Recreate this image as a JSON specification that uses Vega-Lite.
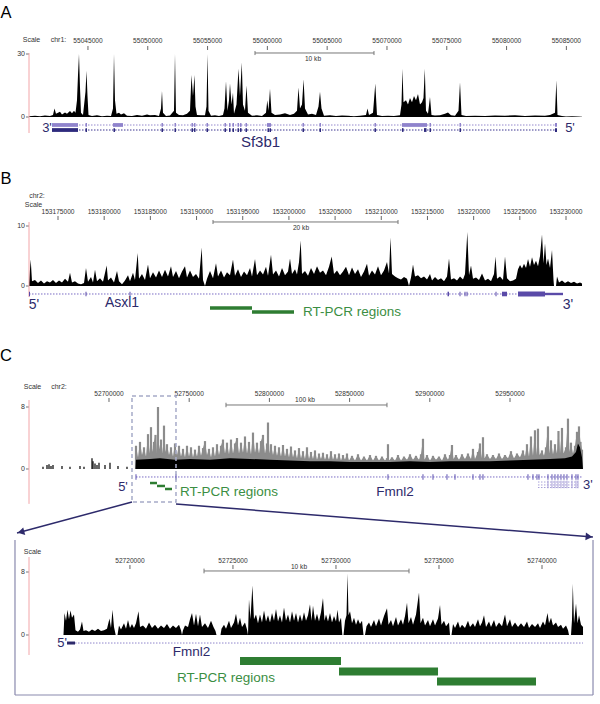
{
"$schema": "https://vega.github.io/schema/vega-lite/v6.json",
"padding": {"left": 0, "top": 4, "right": 0, "bottom": 0},
"background": "white",
"bounds": "flush",
"spacing": 20,
"config": {"view": {"stroke": null}, "font": "Liberation Sans", "text": {"font": "Liberation Sans"}},
"datasets": {
"ticksA": [{"t":55045000},{"t":55050000},{"t":55055000},{"t":55060000},{"t":55065000},{"t":55070000},{"t":55075000},{"t":55080000},{"t":55085000}],
"ticksB": [{"t":153175000},{"t":153180000},{"t":153185000},{"t":153190000},{"t":153195000},{"t":153200000},{"t":153205000},{"t":153210000},{"t":153215000},{"t":153220000},{"t":153225000},{"t":153230000}],
"ticksC": [{"t":52700000},{"t":52750000},{"t":52800000},{"t":52850000},{"t":52900000},{"t":52950000}],
"ticksI": [{"t":52720000},{"t":52725000},{"t":52730000},{"t":52735000},{"t":52740000}],
"yA": [{"t":0},{"t":30}],
"yB": [{"t":0},{"t":10}],
"yC": [{"t":0},{"t":8}],
"covA": [{"p":55040070,"v":0.3},{"p":55040571,"v":0.6},{"p":55040989,"v":0.4},{"p":55041407,"v":0.7},{"p":55041826,"v":0.5},{"p":55042076,"v":1.0},{"p":55042202,"v":4},{"p":55042327,"v":1.5},{"p":55042662,"v":2.5},{"p":55042829,"v":1.2},{"p":55043080,"v":2.2},{"p":55043247,"v":1.5},{"p":55043498,"v":2.8},{"p":55043665,"v":1.8},{"p":55043832,"v":3},{"p":55043958,"v":2},{"p":55044083,"v":8},{"p":55044167,"v":20},{"p":55044250,"v":30},{"p":55044334,"v":14},{"p":55044417,"v":2},{"p":55044585,"v":1},{"p":55044794,"v":12},{"p":55044877,"v":22},{"p":55044961,"v":10},{"p":55045045,"v":1},{"p":55045337,"v":0.5},{"p":55045755,"v":0.8},{"p":55046173,"v":0.4},{"p":55046591,"v":0.6},{"p":55046926,"v":0.5},{"p":55047093,"v":4},{"p":55047177,"v":30},{"p":55047260,"v":8},{"p":55047386,"v":1.5},{"p":55047595,"v":2},{"p":55047762,"v":1.2},{"p":55048013,"v":1.8},{"p":55048264,"v":0.6},{"p":55048682,"v":0.5},{"p":55049100,"v":0.9},{"p":55049518,"v":0.6},{"p":55049936,"v":1.2},{"p":55050187,"v":0.8},{"p":55050605,"v":1},{"p":55050939,"v":0.5},{"p":55051106,"v":4},{"p":55051190,"v":12.5},{"p":55051273,"v":2},{"p":55051524,"v":0.5},{"p":55051859,"v":0.7},{"p":55052193,"v":3},{"p":55052277,"v":30},{"p":55052360,"v":2},{"p":55052611,"v":1},{"p":55052946,"v":0.8},{"p":55053280,"v":1.5},{"p":55053531,"v":3},{"p":55053656,"v":20},{"p":55053782,"v":10},{"p":55053907,"v":20},{"p":55053991,"v":5},{"p":55054116,"v":1},{"p":55054451,"v":0.8},{"p":55054785,"v":0.8},{"p":55054911,"v":5},{"p":55054994,"v":30},{"p":55055078,"v":3},{"p":55055287,"v":0.6},{"p":55055621,"v":0.8},{"p":55055956,"v":0.5},{"p":55056290,"v":1},{"p":55056415,"v":4},{"p":55056541,"v":17},{"p":55056666,"v":3},{"p":55056792,"v":8},{"p":55056875,"v":16},{"p":55057001,"v":6},{"p":55057126,"v":11.5},{"p":55057210,"v":1.5},{"p":55057419,"v":6},{"p":55057586,"v":23},{"p":55057711,"v":10},{"p":55057862,"v":26},{"p":55057962,"v":6},{"p":55058129,"v":3},{"p":55058255,"v":15},{"p":55058380,"v":2},{"p":55058715,"v":0.6},{"p":55059133,"v":0.8},{"p":55059551,"v":0.5},{"p":55059885,"v":2},{"p":55059994,"v":8},{"p":55060094,"v":3},{"p":55060220,"v":13.5},{"p":55060345,"v":2},{"p":55060638,"v":1},{"p":55061056,"v":1.2},{"p":55061474,"v":1.8},{"p":55061892,"v":1},{"p":55062226,"v":1.5},{"p":55062477,"v":3},{"p":55062603,"v":14},{"p":55062728,"v":4},{"p":55062895,"v":6},{"p":55063029,"v":18},{"p":55063146,"v":4},{"p":55063397,"v":1.2},{"p":55063731,"v":1.5},{"p":55064066,"v":1},{"p":55064275,"v":5},{"p":55064400,"v":12},{"p":55064526,"v":4},{"p":55064735,"v":0.6},{"p":55065236,"v":0.8},{"p":55065738,"v":0.5},{"p":55066240,"v":0.7},{"p":55066741,"v":0.6},{"p":55067243,"v":0.4},{"p":55067745,"v":0.6},{"p":55068246,"v":1},{"p":55068372,"v":4},{"p":55068497,"v":1},{"p":55068832,"v":2},{"p":55069024,"v":16},{"p":55069166,"v":1},{"p":55069584,"v":0.5},{"p":55070086,"v":0.6},{"p":55070587,"v":0.5},{"p":55071089,"v":0.8},{"p":55071214,"v":6},{"p":55071298,"v":23},{"p":55071382,"v":7},{"p":55071591,"v":8},{"p":55071758,"v":6},{"p":55071925,"v":9},{"p":55072092,"v":7},{"p":55072260,"v":10},{"p":55072427,"v":8},{"p":55072594,"v":11},{"p":55072761,"v":6},{"p":55072928,"v":7},{"p":55073054,"v":9},{"p":55073163,"v":23},{"p":55073263,"v":3},{"p":55073430,"v":1.5},{"p":55073597,"v":9.5},{"p":55073723,"v":1},{"p":55074015,"v":0.7},{"p":55074433,"v":0.8},{"p":55074851,"v":1.5},{"p":55075102,"v":2.2},{"p":55075353,"v":0.8},{"p":55075688,"v":0.6},{"p":55075980,"v":3},{"p":55076106,"v":16.5},{"p":55076231,"v":1},{"p":55076607,"v":0.5},{"p":55077360,"v":0.6},{"p":55078196,"v":0.5},{"p":55079032,"v":0.7},{"p":55079868,"v":0.6},{"p":55080704,"v":0.8},{"p":55081540,"v":0.5},{"p":55082376,"v":0.7},{"p":55083212,"v":0.6},{"p":55083631,"v":0.9},{"p":55084049,"v":2},{"p":55084166,"v":17.5},{"p":55084258,"v":1},{"p":55084634,"v":0.5},{"p":55084968,"v":0.2},{"p":55085470,"v":0.3},{"p":55085972,"v":0.2},{"p":55086306,"v":0.1}],
"exAup": [{"s":55041993,"e":55044167},{"s":55044794,"e":55044919},{"s":55047093,"e":55047929},{"s":55051148,"e":55051273},{"s":55052235,"e":55052360},{"s":55053656,"e":55053782},{"s":55053865,"e":55053991},{"s":55054911,"e":55055036},{"s":55056415,"e":55056541},{"s":55056792,"e":55056917},{"s":55057084,"e":55057210},{"s":55057502,"e":55057628},{"s":55057711,"e":55057837},{"s":55058171,"e":55058297},{"s":55059969,"e":55060303},{"s":55062937,"e":55063062},{"s":55064358,"e":55064484},{"s":55068957,"e":55069082},{"s":55071256,"e":55073347},{"s":55073556,"e":55073681},{"s":55076064,"e":55076189},{"s":55084049,"e":55084216}],
"exAlo": [{"s":55041993,"e":55044167},{"s":55044794,"e":55044919},{"s":55047135,"e":55047260},{"s":55051148,"e":55051273},{"s":55052235,"e":55052360},{"s":55053656,"e":55053782},{"s":55053865,"e":55053991},{"s":55054911,"e":55055036},{"s":55056415,"e":55056541},{"s":55056792,"e":55056917},{"s":55057084,"e":55057210},{"s":55057502,"e":55057628},{"s":55057711,"e":55057837},{"s":55058171,"e":55058297},{"s":55060011,"e":55060136},{"s":55060178,"e":55060303},{"s":55062937,"e":55063062},{"s":55064358,"e":55064484},{"s":55068957,"e":55069082},{"s":55071256,"e":55071382},{"s":55073096,"e":55073305},{"s":55073556,"e":55073681},{"s":55076064,"e":55076189},{"s":55084049,"e":55084216}],
"covB": [{"p":153171860,"v":0.5},{"p":153172044,"v":4.4},{"p":153172185,"v":0.8},{"p":153172509,"v":1.0},{"p":153172834,"v":0.5},{"p":153173159,"v":0.9},{"p":153173484,"v":0.4},{"p":153173809,"v":0.8},{"p":153174134,"v":0.6},{"p":153174458,"v":1.0},{"p":153174783,"v":0.5},{"p":153175108,"v":0.9},{"p":153175433,"v":0.6},{"p":153175758,"v":1.2},{"p":153176082,"v":0.7},{"p":153176299,"v":2.2},{"p":153176515,"v":0.6},{"p":153176840,"v":0.8},{"p":153177165,"v":0.4},{"p":153177490,"v":0.3},{"p":153177815,"v":0.5},{"p":153178031,"v":3.0},{"p":153178248,"v":0.7},{"p":153178573,"v":1.5},{"p":153178789,"v":0.6},{"p":153179006,"v":2.7},{"p":153179222,"v":0.8},{"p":153179547,"v":1.3},{"p":153179872,"v":0.7},{"p":153180272,"v":3.4},{"p":153180413,"v":0.9},{"p":153180738,"v":1.4},{"p":153181063,"v":0.6},{"p":153181388,"v":2.5},{"p":153181604,"v":0.8},{"p":153181929,"v":0.3},{"p":153182254,"v":0.9},{"p":153182579,"v":1.8},{"p":153182795,"v":0.8},{"p":153183120,"v":2.2},{"p":153183336,"v":1.0},{"p":153183629,"v":5.5},{"p":153183770,"v":1.2},{"p":153184094,"v":2.0},{"p":153184419,"v":1.0},{"p":153184744,"v":3.6},{"p":153184961,"v":1.3},{"p":153185285,"v":2.3},{"p":153185610,"v":1.4},{"p":153185935,"v":2.6},{"p":153186260,"v":1.5},{"p":153186585,"v":2.7},{"p":153186909,"v":1.6},{"p":153187234,"v":3.3},{"p":153187451,"v":1.5},{"p":153187776,"v":2.5},{"p":153188100,"v":1.3},{"p":153188425,"v":2.4},{"p":153188750,"v":3.3},{"p":153188967,"v":1.4},{"p":153189291,"v":2.6},{"p":153189616,"v":1.5},{"p":153189941,"v":2.0},{"p":153190266,"v":1.2},{"p":153190558,"v":6.4},{"p":153190699,"v":1.0},{"p":153190915,"v":0},{"p":153191132,"v":1.2},{"p":153191457,"v":2.5},{"p":153191782,"v":1.3},{"p":153192106,"v":3.8},{"p":153192323,"v":1.6},{"p":153192648,"v":2.6},{"p":153192973,"v":1.4},{"p":153193297,"v":2.3},{"p":153193622,"v":1.8},{"p":153193947,"v":4.4},{"p":153194163,"v":1.7},{"p":153194488,"v":2.8},{"p":153194813,"v":1.5},{"p":153195138,"v":2.4},{"p":153195463,"v":1.8},{"p":153195788,"v":3.0},{"p":153196004,"v":1.6},{"p":153196329,"v":4.5},{"p":153196545,"v":1.8},{"p":153196870,"v":2.6},{"p":153197195,"v":1.9},{"p":153197520,"v":3.2},{"p":153197736,"v":1.7},{"p":153198061,"v":5.2},{"p":153198278,"v":1.9},{"p":153198603,"v":2.6},{"p":153198927,"v":1.6},{"p":153199252,"v":3.0},{"p":153199577,"v":1.8},{"p":153199902,"v":2.4},{"p":153200118,"v":4.6},{"p":153200335,"v":2.0},{"p":153200660,"v":2.8},{"p":153200876,"v":1.9},{"p":153201093,"v":4.0},{"p":153201277,"v":7.6},{"p":153201418,"v":2.0},{"p":153201742,"v":2.5},{"p":153202067,"v":1.7},{"p":153202392,"v":3.0},{"p":153202717,"v":2.0},{"p":153203042,"v":3.3},{"p":153203366,"v":2.2},{"p":153203691,"v":2.6},{"p":153204016,"v":1.8},{"p":153204341,"v":3.2},{"p":153204633,"v":4.9},{"p":153204882,"v":2.0},{"p":153205207,"v":2.6},{"p":153205532,"v":1.8},{"p":153205857,"v":2.4},{"p":153206181,"v":3.2},{"p":153206506,"v":1.8},{"p":153206831,"v":3.1},{"p":153207156,"v":2.0},{"p":153207481,"v":2.8},{"p":153207805,"v":1.5},{"p":153208130,"v":2.4},{"p":153208455,"v":3.7},{"p":153208672,"v":1.7},{"p":153208996,"v":2.6},{"p":153209321,"v":1.9},{"p":153209646,"v":3.3},{"p":153209971,"v":1.8},{"p":153210296,"v":2.6},{"p":153210620,"v":4.0},{"p":153210837,"v":2.1},{"p":153210999,"v":8.1},{"p":153211162,"v":2.0},{"p":153211487,"v":1.6},{"p":153211811,"v":1.3},{"p":153212136,"v":1.1},{"p":153212461,"v":1.5},{"p":153212786,"v":1.2},{"p":153213002,"v":0},{"p":153213219,"v":1.4},{"p":153213435,"v":3.6},{"p":153213652,"v":1.6},{"p":153213977,"v":1.8},{"p":153214302,"v":1.3},{"p":153214626,"v":1.6},{"p":153214951,"v":1.1},{"p":153215276,"v":2.0},{"p":153215493,"v":0.9},{"p":153215817,"v":1.5},{"p":153216142,"v":1.0},{"p":153216467,"v":1.3},{"p":153216792,"v":0.8},{"p":153217117,"v":1.6},{"p":153217333,"v":4.6},{"p":153217550,"v":1.1},{"p":153217875,"v":1.3},{"p":153218199,"v":0.9},{"p":153218524,"v":1.6},{"p":153218849,"v":1.1},{"p":153219066,"v":2.0},{"p":153219315,"v":9.0},{"p":153219499,"v":1.8},{"p":153219715,"v":3.4},{"p":153219932,"v":1.2},{"p":153220257,"v":1.4},{"p":153220581,"v":1.0},{"p":153220906,"v":2.1},{"p":153221231,"v":0.9},{"p":153221556,"v":1.2},{"p":153221881,"v":0.8},{"p":153222205,"v":2.0},{"p":153222368,"v":4.9},{"p":153222530,"v":1.2},{"p":153222855,"v":1.6},{"p":153223180,"v":1.0},{"p":153223396,"v":4.9},{"p":153223613,"v":1.3},{"p":153223938,"v":0.8},{"p":153224263,"v":0.9},{"p":153224587,"v":1.2},{"p":153224804,"v":2.8},{"p":153225020,"v":3.5},{"p":153225237,"v":2.9},{"p":153225453,"v":3.7},{"p":153225670,"v":3.0},{"p":153225887,"v":4.5},{"p":153226103,"v":3.2},{"p":153226320,"v":4.8},{"p":153226536,"v":3.5},{"p":153226753,"v":4.2},{"p":153226969,"v":3.3},{"p":153227186,"v":5.0},{"p":153227402,"v":8.6},{"p":153227565,"v":3.8},{"p":153227727,"v":7.1},{"p":153227890,"v":3.5},{"p":153228052,"v":4.6},{"p":153228269,"v":3.0},{"p":153228485,"v":6.0},{"p":153228647,"v":1.0},{"p":153228702,"v":0},{"p":153228918,"v":0},{"p":153229026,"v":1.6},{"p":153229243,"v":0.6},{"p":153229568,"v":0.9},{"p":153229893,"v":0.5},{"p":153230217,"v":0.8},{"p":153230542,"v":0.5},{"p":153230867,"v":0.7},{"p":153231192,"v":0.4},{"p":153231517,"v":0.6},{"p":153231733,"v":0.4}],
"exB": [{"s":153171860,"e":153171968},{"s":153177977,"e":153178085},{"s":153182741,"e":153182849},{"s":153217171,"e":153217333},{"s":153218470,"e":153218578},{"s":153219011,"e":153219120},{"s":153219228,"e":153219336},{"s":153222368,"e":153222476},{"s":153223072,"e":153223613}],
"covCgray": [{"p":52716522,"v":0},{"p":52716833,"v":3.0},{"p":52718080,"v":1.5},{"p":52719327,"v":3.5},{"p":52720574,"v":1.8},{"p":52721821,"v":2.8},{"p":52723067,"v":1.6},{"p":52724314,"v":4.5},{"p":52725249,"v":2.0},{"p":52726184,"v":5.4},{"p":52727120,"v":2.2},{"p":52728055,"v":3.5},{"p":52728990,"v":4.4},{"p":52729925,"v":2.0},{"p":52730548,"v":8.0},{"p":52731172,"v":2.5},{"p":52732418,"v":3.8},{"p":52733665,"v":2.0},{"p":52734289,"v":5.6},{"p":52735224,"v":2.2},{"p":52736159,"v":3.2},{"p":52737406,"v":1.8},{"p":52738652,"v":2.8},{"p":52739899,"v":1.6},{"p":52741146,"v":3.3},{"p":52742393,"v":1.8},{"p":52743640,"v":3.0},{"p":52744886,"v":1.6},{"p":52746133,"v":2.6},{"p":52747380,"v":1.5},{"p":52748627,"v":3.0},{"p":52749874,"v":1.6},{"p":52751120,"v":2.8},{"p":52752367,"v":1.5},{"p":52753614,"v":2.5},{"p":52754861,"v":1.6},{"p":52756108,"v":3.0},{"p":52757354,"v":1.7},{"p":52758601,"v":2.7},{"p":52759848,"v":3.6},{"p":52761095,"v":1.8},{"p":52762342,"v":2.6},{"p":52763588,"v":1.5},{"p":52764835,"v":2.8},{"p":52766082,"v":1.6},{"p":52767329,"v":3.2},{"p":52768576,"v":1.8},{"p":52769822,"v":3.0},{"p":52771069,"v":3.8},{"p":52772316,"v":2.0},{"p":52773563,"v":3.4},{"p":52774810,"v":1.9},{"p":52776056,"v":3.8},{"p":52777303,"v":2.0},{"p":52778550,"v":3.3},{"p":52779797,"v":4.0},{"p":52781044,"v":2.0},{"p":52782290,"v":3.4},{"p":52783537,"v":2.1},{"p":52784784,"v":4.2},{"p":52786031,"v":2.0},{"p":52787278,"v":3.5},{"p":52788524,"v":1.9},{"p":52789771,"v":4.7},{"p":52791018,"v":2.1},{"p":52792265,"v":3.4},{"p":52793512,"v":2.0},{"p":52794758,"v":3.6},{"p":52796005,"v":4.4},{"p":52797252,"v":2.0},{"p":52798499,"v":3.3},{"p":52799122,"v":6.0},{"p":52800057,"v":2.0},{"p":52800992,"v":3.2},{"p":52802239,"v":1.8},{"p":52803486,"v":3.0},{"p":52804733,"v":1.7},{"p":52805980,"v":2.8},{"p":52807226,"v":1.6},{"p":52808473,"v":3.1},{"p":52809720,"v":1.6},{"p":52810967,"v":2.6},{"p":52812214,"v":1.5},{"p":52813460,"v":2.9},{"p":52814707,"v":1.5},{"p":52815954,"v":2.4},{"p":52817201,"v":1.4},{"p":52818448,"v":2.7},{"p":52819694,"v":1.4},{"p":52820941,"v":2.3},{"p":52822188,"v":1.3},{"p":52823435,"v":2.8},{"p":52824682,"v":1.3},{"p":52825928,"v":2.2},{"p":52827175,"v":1.3},{"p":52828422,"v":2.4},{"p":52829669,"v":1.2},{"p":52830916,"v":2.0},{"p":52832162,"v":1.3},{"p":52833409,"v":2.1},{"p":52834656,"v":1.2},{"p":52835903,"v":1.9},{"p":52837150,"v":1.2},{"p":52838396,"v":2.3},{"p":52839643,"v":1.2},{"p":52840890,"v":1.9},{"p":52842137,"v":1.2},{"p":52843384,"v":2.0},{"p":52844630,"v":1.1},{"p":52845877,"v":1.8},{"p":52847124,"v":1.2},{"p":52848371,"v":2.0},{"p":52849618,"v":1.1},{"p":52851488,"v":1.7},{"p":52853358,"v":1.1},{"p":52855228,"v":1.9},{"p":52857098,"v":1.1},{"p":52858969,"v":1.6},{"p":52860839,"v":1.1},{"p":52862709,"v":1.8},{"p":52864579,"v":1.1},{"p":52866449,"v":1.7},{"p":52868320,"v":1.1},{"p":52870190,"v":1.6},{"p":52872060,"v":1.1},{"p":52873307,"v":1.4},{"p":52873930,"v":3.2},{"p":52874554,"v":1.1},{"p":52876424,"v":1.5},{"p":52878294,"v":1.1},{"p":52880164,"v":1.8},{"p":52882034,"v":1.1},{"p":52883905,"v":1.6},{"p":52885775,"v":1.2},{"p":52887645,"v":1.9},{"p":52889515,"v":1.2},{"p":52891385,"v":1.7},{"p":52893256,"v":1.2},{"p":52894502,"v":1.9},{"p":52895749,"v":3.9},{"p":52896684,"v":1.2},{"p":52898243,"v":1.8},{"p":52900113,"v":1.1},{"p":52901983,"v":1.7},{"p":52903853,"v":1.2},{"p":52905724,"v":1.6},{"p":52907594,"v":1.1},{"p":52909464,"v":1.9},{"p":52911334,"v":1.2},{"p":52912581,"v":1.8},{"p":52913828,"v":3.1},{"p":52914763,"v":1.3},{"p":52916321,"v":1.8},{"p":52918192,"v":1.2},{"p":52920062,"v":1.9},{"p":52921932,"v":1.3},{"p":52923802,"v":2.0},{"p":52925672,"v":1.3},{"p":52926919,"v":2.6},{"p":52928166,"v":1.3},{"p":52930036,"v":2.2},{"p":52931283,"v":3.3},{"p":52932218,"v":1.4},{"p":52933153,"v":4.1},{"p":52934088,"v":1.4},{"p":52935647,"v":1.9},{"p":52937517,"v":1.3},{"p":52939387,"v":1.8},{"p":52941257,"v":1.3},{"p":52943128,"v":2.0},{"p":52944998,"v":1.3},{"p":52946868,"v":1.8},{"p":52948738,"v":1.4},{"p":52950608,"v":2.3},{"p":52952479,"v":1.4},{"p":52954349,"v":2.0},{"p":52956219,"v":1.5},{"p":52958089,"v":2.4},{"p":52959336,"v":1.6},{"p":52960583,"v":3.2},{"p":52961830,"v":1.6},{"p":52963076,"v":4.2},{"p":52964323,"v":1.7},{"p":52965570,"v":5.0},{"p":52966505,"v":1.8},{"p":52967440,"v":5.2},{"p":52968375,"v":1.8},{"p":52969934,"v":2.4},{"p":52971181,"v":1.7},{"p":52972427,"v":2.8},{"p":52973674,"v":5.5},{"p":52974609,"v":2.0},{"p":52975544,"v":3.7},{"p":52976791,"v":1.9},{"p":52978038,"v":3.2},{"p":52979285,"v":2.0},{"p":52980220,"v":4.9},{"p":52981155,"v":2.0},{"p":52982402,"v":5.3},{"p":52983337,"v":2.0},{"p":52984895,"v":2.8},{"p":52986142,"v":6.5},{"p":52987077,"v":2.2},{"p":52988012,"v":3.4},{"p":52989259,"v":2.0},{"p":52990506,"v":3.0},{"p":52991753,"v":4.8},{"p":52992376,"v":3.0},{"p":52993000,"v":5.5},{"p":52993935,"v":3.5},{"p":52994870,"v":2.5},{"p":52995493,"v":0}],
"covCfloor": [{"p":52716522,"v":0},{"p":52716833,"v":1.2},{"p":52725561,"v":1.3},{"p":52731795,"v":1.4},{"p":52741146,"v":1.2},{"p":52750497,"v":1.3},{"p":52762965,"v":1.2},{"p":52775433,"v":1.4},{"p":52787901,"v":1.3},{"p":52800369,"v":1.2},{"p":52812837,"v":1.1},{"p":52825305,"v":1.0},{"p":52837773,"v":1.0},{"p":52850241,"v":0.9},{"p":52862709,"v":0.9},{"p":52875177,"v":0.9},{"p":52887645,"v":1.0},{"p":52900113,"v":0.9},{"p":52912581,"v":1.0},{"p":52925049,"v":1.0},{"p":52937517,"v":1.0},{"p":52949985,"v":1.1},{"p":52962453,"v":1.2},{"p":52974921,"v":1.3},{"p":52984272,"v":1.4},{"p":52988636,"v":1.6},{"p":52991129,"v":2.2},{"p":52992376,"v":3.3},{"p":52993623,"v":2.8},{"p":52994870,"v":1.5},{"p":52995493,"v":0}],
"covCsparse": [{"p":52658857,"v":0.3},{"p":52661351,"v":0.5},{"p":52662598,"v":0.6},{"p":52663844,"v":0.4},{"p":52665091,"v":0.5},{"p":52670702,"v":0.4},{"p":52675689,"v":0.3},{"p":52681923,"v":0.4},{"p":52684417,"v":0.3},{"p":52689404,"v":1.4},{"p":52690027,"v":1.0},{"p":52691274,"v":0.7},{"p":52692521,"v":0.5},{"p":52693768,"v":0.8},{"p":52697508,"v":0.5},{"p":52700625,"v":0.8},{"p":52705612,"v":0.4},{"p":52711223,"v":0.3}],
"exC": [{"s":52716522,"e":52717145},{"s":52741458,"e":52742081},{"s":52873619,"e":52874242},{"s":52895438,"e":52896061},{"s":52901672,"e":52902295},{"s":52910399,"e":52911023},{"s":52915386,"e":52916010},{"s":52926608,"e":52927231},{"s":52930971,"e":52931595},{"s":52932842,"e":52933465},{"s":52960895,"e":52961518},{"s":52964012,"e":52964635},{"s":52966505,"e":52967129},{"s":52967752,"e":52968375},{"s":52973363,"e":52973986},{"s":52975856,"e":52976480},{"s":52977726,"e":52978350},{"s":52979597,"e":52980220},{"s":52981467,"e":52982090},{"s":52983337,"e":52983960},{"s":52985207,"e":52985831},{"s":52988324,"e":52988948},{"s":52990818,"e":52991441},{"s":52992065,"e":52992688}],
"covI": [{"p":52716774,"v":0},{"p":52716823,"v":2.8},{"p":52716896,"v":1.8},{"p":52716968,"v":3.2},{"p":52717041,"v":2.0},{"p":52717114,"v":3.1},{"p":52717187,"v":2.2},{"p":52717284,"v":2.6},{"p":52717357,"v":0.6},{"p":52717478,"v":0.4},{"p":52717575,"v":0.7},{"p":52717672,"v":1.7},{"p":52717745,"v":0.5},{"p":52717866,"v":0.6},{"p":52718012,"v":0.4},{"p":52718158,"v":0.7},{"p":52718303,"v":0.5},{"p":52718449,"v":0.8},{"p":52718595,"v":0.5},{"p":52718740,"v":0.6},{"p":52718886,"v":0.8},{"p":52719007,"v":2.1},{"p":52719080,"v":0.9},{"p":52719153,"v":3.2},{"p":52719226,"v":1.0},{"p":52719308,"v":0},{"p":52719396,"v":0},{"p":52719468,"v":1.2},{"p":52719565,"v":0.7},{"p":52719711,"v":1.5},{"p":52719808,"v":0.8},{"p":52719905,"v":1.9},{"p":52720002,"v":0.9},{"p":52720099,"v":1.4},{"p":52720196,"v":0.9},{"p":52720293,"v":1.5},{"p":52720415,"v":3.0},{"p":52720488,"v":1.0},{"p":52720633,"v":1.2},{"p":52720779,"v":0.8},{"p":52720925,"v":1.6},{"p":52721070,"v":0.9},{"p":52721216,"v":1.3},{"p":52721361,"v":0.8},{"p":52721507,"v":1.2},{"p":52721653,"v":0.9},{"p":52721798,"v":1.4},{"p":52721944,"v":0.8},{"p":52722089,"v":1.2},{"p":52722235,"v":0.9},{"p":52722381,"v":1.3},{"p":52722478,"v":0.6},{"p":52722526,"v":0},{"p":52722575,"v":0.6},{"p":52722672,"v":1.2},{"p":52722818,"v":1.0},{"p":52722915,"v":2.0},{"p":52723012,"v":2.8},{"p":52723109,"v":1.2},{"p":52723206,"v":2.7},{"p":52723303,"v":1.1},{"p":52723400,"v":2.6},{"p":52723497,"v":1.0},{"p":52723643,"v":1.5},{"p":52723788,"v":0.9},{"p":52723934,"v":1.8},{"p":52724055,"v":1.0},{"p":52724152,"v":0.5},{"p":52724201,"v":0},{"p":52724395,"v":0},{"p":52724444,"v":0.8},{"p":52724565,"v":1.3},{"p":52724662,"v":0.8},{"p":52724808,"v":1.8},{"p":52724905,"v":0.9},{"p":52725050,"v":1.6},{"p":52725147,"v":2.7},{"p":52725244,"v":1.2},{"p":52725342,"v":2.2},{"p":52725439,"v":1.0},{"p":52725584,"v":1.6},{"p":52725681,"v":0.7},{"p":52725730,"v":0},{"p":52725778,"v":4.5},{"p":52725851,"v":2.0},{"p":52725943,"v":6.3},{"p":52726021,"v":2.0},{"p":52726118,"v":2.6},{"p":52726215,"v":1.5},{"p":52726312,"v":2.6},{"p":52726409,"v":1.6},{"p":52726507,"v":3.1},{"p":52726604,"v":1.7},{"p":52726701,"v":2.5},{"p":52726798,"v":1.6},{"p":52726895,"v":2.8},{"p":52726992,"v":1.8},{"p":52727089,"v":3.3},{"p":52727186,"v":1.7},{"p":52727283,"v":2.5},{"p":52727380,"v":1.6},{"p":52727477,"v":3.5},{"p":52727574,"v":1.8},{"p":52727672,"v":2.6},{"p":52727769,"v":1.6},{"p":52727866,"v":3.0},{"p":52727963,"v":1.8},{"p":52728060,"v":2.8},{"p":52728157,"v":1.6},{"p":52728254,"v":2.6},{"p":52728351,"v":1.7},{"p":52728448,"v":2.9},{"p":52728545,"v":1.8},{"p":52728642,"v":2.5},{"p":52728739,"v":3.9},{"p":52728812,"v":1.8},{"p":52728885,"v":3.7},{"p":52728982,"v":1.8},{"p":52729079,"v":2.7},{"p":52729176,"v":1.7},{"p":52729273,"v":2.9},{"p":52729370,"v":4.7},{"p":52729443,"v":1.8},{"p":52729516,"v":2.6},{"p":52729613,"v":1.7},{"p":52729710,"v":2.8},{"p":52729807,"v":1.6},{"p":52729904,"v":2.4},{"p":52730001,"v":1.7},{"p":52730074,"v":3.2},{"p":52730147,"v":1.6},{"p":52730244,"v":2.2},{"p":52730307,"v":0},{"p":52730366,"v":0},{"p":52730438,"v":1.8},{"p":52730511,"v":2.5},{"p":52730560,"v":7.8},{"p":52730608,"v":2.5},{"p":52730681,"v":3.0},{"p":52730778,"v":1.5},{"p":52730875,"v":2.2},{"p":52730972,"v":1.3},{"p":52731069,"v":2.0},{"p":52731166,"v":1.4},{"p":52731264,"v":1.8},{"p":52731336,"v":0},{"p":52731409,"v":0},{"p":52731482,"v":1.1},{"p":52731603,"v":1.6},{"p":52731700,"v":1.0},{"p":52731846,"v":1.9},{"p":52731943,"v":1.1},{"p":52732089,"v":2.1},{"p":52732186,"v":1.2},{"p":52732331,"v":2.4},{"p":52732477,"v":3.4},{"p":52732550,"v":1.3},{"p":52732671,"v":1.9},{"p":52732768,"v":1.1},{"p":52732914,"v":2.3},{"p":52733011,"v":1.2},{"p":52733157,"v":2.0},{"p":52733254,"v":1.3},{"p":52733351,"v":2.4},{"p":52733448,"v":4.1},{"p":52733521,"v":1.5},{"p":52733642,"v":2.3},{"p":52733739,"v":1.3},{"p":52733885,"v":2.6},{"p":52734030,"v":5.4},{"p":52734103,"v":1.5},{"p":52734224,"v":2.2},{"p":52734322,"v":1.2},{"p":52734467,"v":1.9},{"p":52734564,"v":1.1},{"p":52734710,"v":2.0},{"p":52734807,"v":1.2},{"p":52734953,"v":2.1},{"p":52735050,"v":3.8},{"p":52735122,"v":1.3},{"p":52735244,"v":1.8},{"p":52735341,"v":1.1},{"p":52735486,"v":1.6},{"p":52735535,"v":0},{"p":52735608,"v":0},{"p":52735681,"v":1.4},{"p":52735778,"v":0.9},{"p":52735923,"v":1.7},{"p":52736020,"v":0.9},{"p":52736117,"v":1.3},{"p":52736263,"v":0.9},{"p":52736409,"v":1.8},{"p":52736506,"v":1.0},{"p":52736651,"v":1.5},{"p":52736748,"v":1.0},{"p":52736894,"v":2.0},{"p":52736991,"v":1.1},{"p":52737088,"v":1.6},{"p":52737185,"v":2.5},{"p":52737282,"v":1.0},{"p":52737428,"v":1.7},{"p":52737525,"v":1.0},{"p":52737671,"v":1.9},{"p":52737768,"v":1.0},{"p":52737913,"v":1.6},{"p":52738059,"v":1.1},{"p":52738205,"v":2.6},{"p":52738302,"v":1.1},{"p":52738447,"v":2.0},{"p":52738544,"v":1.0},{"p":52738690,"v":1.6},{"p":52738836,"v":1.0},{"p":52738981,"v":1.5},{"p":52739127,"v":1.0},{"p":52739273,"v":1.7},{"p":52739370,"v":0.9},{"p":52739515,"v":1.4},{"p":52739661,"v":1.0},{"p":52739807,"v":1.5},{"p":52739904,"v":0.9},{"p":52740049,"v":1.7},{"p":52740146,"v":1.2},{"p":52740268,"v":2.8},{"p":52740340,"v":1.5},{"p":52740438,"v":2.2},{"p":52740535,"v":1.2},{"p":52740680,"v":1.6},{"p":52740777,"v":1.0},{"p":52740923,"v":1.3},{"p":52741020,"v":0.8},{"p":52741166,"v":1.2},{"p":52741263,"v":0.6},{"p":52741311,"v":0},{"p":52741408,"v":0},{"p":52741457,"v":2.0},{"p":52741496,"v":6.5},{"p":52741554,"v":1.5},{"p":52741651,"v":4.0},{"p":52741724,"v":1.5},{"p":52741797,"v":2.5},{"p":52741894,"v":1.3},{"p":52741991,"v":1.0}]
},
"vconcat": [
{"width": 554, "height": 152,
 "layer": [
  {"data": {"name": "covA"}, "mark": {"type": "area", "color": "#000", "interpolate": "linear"},
   "encoding": {
    "x": {"field": "p", "type": "quantitative", "scale": {"domain": [55040070, 55086390], "nice": false, "zero": false}, "axis": null},
    "y": {"field": "v", "type": "quantitative", "scale": {"domain": [-42.38, 30], "nice": false, "zero": false}, "axis": null},
    "y2": {"datum": 0}}},
  {"data": {"name": "ticksA"}, "mark": {"type": "text", "fontSize": 6.6, "color": "#333", "align": "center", "baseline": "middle"}, "encoding": {"x": {"field": "t", "type": "quantitative", "axis": null}, "y": {"datum": 36.19, "type": "quantitative", "axis": null}, "text": {"field": "t", "type": "quantitative", "format": "d"}}},
  {"data": {"name": "ticksA"}, "mark": {"type": "rule", "color": "#666", "strokeWidth": 1}, "encoding": {"x": {"field": "t", "type": "quantitative", "axis": null}, "y": {"datum": 33.81, "type": "quantitative", "axis": null}, "y2": {"datum": 31.9}}},
  {"data": {"name": "yA"}, "mark": {"type": "text", "fontSize": 7, "color": "#333", "align": "right", "baseline": "middle"}, "encoding": {"x": {"datum": 55039736, "type": "quantitative", "axis": null}, "y": {"field": "t", "type": "quantitative", "axis": null}, "text": {"field": "t", "type": "quantitative"}}},
  {"data": {"name": "yA"}, "mark": {"type": "rule", "color": "#777", "strokeWidth": 1}, "encoding": {"x": {"datum": 55039819, "type": "quantitative", "axis": null}, "x2": {"datum": 55040070}, "y": {"field": "t", "type": "quantitative", "axis": null}}},
  {"data": {"values": [{}]}, "mark": {"type": "rule", "color": "#f2a5a8", "strokeWidth": 1}, "encoding": {"x": {"datum": 55040070, "type": "quantitative", "axis": null}, "y": {"datum": 30.48, "type": "quantitative", "axis": null}, "y2": {"datum": -7.62}}},
  {"data": {"values": [{}]}, "mark": {"type": "rule", "color": "#9488cc", "strokeWidth": 1, "strokeDash": [1.5, 1.5]}, "encoding": {"x": {"datum": 55041993, "type": "quantitative", "axis": null}, "x2": {"datum": 55084132}, "y": {"datum": -3.81, "type": "quantitative", "axis": null}}},
  {"data": {"values": [{}]}, "mark": {"type": "rule", "color": "#3a3490", "strokeWidth": 1, "strokeDash": [1.5, 1.5]}, "encoding": {"x": {"datum": 55041993, "type": "quantitative", "axis": null}, "x2": {"datum": 55084132}, "y": {"datum": -6.19, "type": "quantitative", "axis": null}}},
  {"data": {"name": "exAup"}, "mark": {"type": "rect", "color": "#8f83cc"}, "encoding": {"x": {"field": "s", "type": "quantitative", "axis": null}, "x2": {"field": "e"}, "y": {"datum": -2.9, "type": "quantitative", "axis": null}, "y2": {"datum": -4.7}}},
  {"data": {"name": "exAlo"}, "mark": {"type": "rect", "color": "#2e2a7d"}, "encoding": {"x": {"field": "s", "type": "quantitative", "axis": null}, "x2": {"field": "e"}, "y": {"datum": -5.3, "type": "quantitative", "axis": null}, "y2": {"datum": -7.1}}},
  {"data": {"values": [{}]}, "mark": {"type": "text", "fontSize": 13, "color": "#2d2a6b", "align": "center", "baseline": "middle"}, "encoding": {"x": {"datum": 55041575, "type": "quantitative", "axis": null}, "y": {"datum": -5.2, "type": "quantitative", "axis": null}, "text": {"value": "3'"}}},
  {"data": {"values": [{}]}, "mark": {"type": "text", "fontSize": 13, "color": "#2d2a6b", "align": "center", "baseline": "middle"}, "encoding": {"x": {"datum": 55085303, "type": "quantitative", "axis": null}, "y": {"datum": -5.2, "type": "quantitative", "axis": null}, "text": {"value": "5'"}}},
  {"data": {"values": [{}]}, "mark": {"type": "text", "fontSize": 15, "color": "#2d2a6b", "align": "center", "baseline": "middle"}, "encoding": {"x": {"datum": 55059425, "type": "quantitative", "axis": null}, "y": {"datum": -11.9, "type": "quantitative", "axis": null}, "text": {"value": "Sf3b1"}}},
  {"data": {"values": [{}]}, "mark": {"type": "text", "fontSize": 7, "color": "#333", "align": "center", "baseline": "middle"}, "encoding": {"x": {"datum": 55040279, "type": "quantitative", "axis": null}, "y": {"datum": 36.67, "type": "quantitative", "axis": null}, "text": {"value": "Scale"}}},
  {"data": {"values": [{}]}, "mark": {"type": "text", "fontSize": 7, "color": "#333", "align": "center", "baseline": "middle"}, "encoding": {"x": {"datum": 55042536, "type": "quantitative", "axis": null}, "y": {"datum": 36.67, "type": "quantitative", "axis": null}, "text": {"value": "chr1:"}}},
  {"data": {"values": [{}]}, "mark": {"type": "rule", "color": "#777", "strokeWidth": 1}, "encoding": {"x": {"datum": 55058966, "type": "quantitative", "axis": null}, "x2": {"datum": 55068915}, "y": {"datum": 30.48, "type": "quantitative", "axis": null}}},
  {"data": {"values": [{}]}, "mark": {"type": "rule", "color": "#777", "strokeWidth": 1}, "encoding": {"x": {"datum": 55058966, "type": "quantitative", "axis": null}, "y": {"datum": 29.5, "type": "quantitative", "axis": null}, "y2": {"datum": 31.4}}},
  {"data": {"values": [{}]}, "mark": {"type": "rule", "color": "#777", "strokeWidth": 1}, "encoding": {"x": {"datum": 55068915, "type": "quantitative", "axis": null}, "y": {"datum": 29.5, "type": "quantitative", "axis": null}, "y2": {"datum": 31.4}}},
  {"data": {"values": [{}]}, "mark": {"type": "text", "fontSize": 6.6, "color": "#333", "align": "center", "baseline": "middle"}, "encoding": {"x": {"datum": 55063815, "type": "quantitative", "axis": null}, "y": {"datum": 27.6, "type": "quantitative", "axis": null}, "text": {"value": "10 kb"}}},
  {"data": {"values": [{}]}, "mark": {"type": "text", "fontSize": 16.5, "color": "#000", "align": "center", "baseline": "middle"}, "encoding": {"x": {"datum": 55038147, "type": "quantitative", "axis": null}, "y": {"datum": 49.76, "type": "quantitative", "axis": null}, "text": {"value": "A"}}}
 ]},
{"width": 554, "height": 161,
 "layer": [
  {"data": {"name": "covB"}, "mark": {"type": "area", "color": "#000", "interpolate": "linear"},
   "encoding": {
    "x": {"field": "p", "type": "quantitative", "scale": {"domain": [153171860, 153231840], "nice": false, "zero": false}, "axis": null},
    "y": {"field": "v", "type": "quantitative", "scale": {"domain": [-16.83, 10], "nice": false, "zero": false}, "axis": null},
    "y2": {"datum": 0}}},
  {"data": {"name": "ticksB"}, "mark": {"type": "text", "fontSize": 6.6, "color": "#333", "align": "center", "baseline": "middle"}, "encoding": {"x": {"field": "t", "type": "quantitative", "axis": null}, "y": {"datum": 12.33, "type": "quantitative", "axis": null}, "text": {"field": "t", "type": "quantitative", "format": "d"}}},
  {"data": {"name": "ticksB"}, "mark": {"type": "rule", "color": "#666", "strokeWidth": 1}, "encoding": {"x": {"field": "t", "type": "quantitative", "axis": null}, "y": {"datum": 11.67, "type": "quantitative", "axis": null}, "y2": {"datum": 11.0}}},
  {"data": {"name": "yB"}, "mark": {"type": "text", "fontSize": 7, "color": "#333", "align": "right", "baseline": "middle"}, "encoding": {"x": {"datum": 153171427, "type": "quantitative", "axis": null}, "y": {"field": "t", "type": "quantitative", "axis": null}, "text": {"field": "t", "type": "quantitative"}}},
  {"data": {"name": "yB"}, "mark": {"type": "rule", "color": "#777", "strokeWidth": 1}, "encoding": {"x": {"datum": 153171535, "type": "quantitative", "axis": null}, "x2": {"datum": 153171860}, "y": {"field": "t", "type": "quantitative", "axis": null}}},
  {"data": {"values": [{}]}, "mark": {"type": "rule", "color": "#f2a5a8", "strokeWidth": 1}, "encoding": {"x": {"datum": 153171860, "type": "quantitative", "axis": null}, "y": {"datum": 10.67, "type": "quantitative", "axis": null}, "y2": {"datum": -1.83}}},
  {"data": {"values": [{}]}, "mark": {"type": "rule", "color": "#7a6cc4", "strokeWidth": 1, "strokeDash": [1.5, 1.5]}, "encoding": {"x": {"datum": 153171860, "type": "quantitative", "axis": null}, "x2": {"datum": 153227727}, "y": {"datum": -1.33, "type": "quantitative", "axis": null}}},
  {"data": {"name": "exB"}, "mark": {"type": "rect", "color": "#5a4aa8"}, "encoding": {"x": {"field": "s", "type": "quantitative", "axis": null}, "x2": {"field": "e"}, "y": {"datum": -0.95, "type": "quantitative", "axis": null}, "y2": {"datum": -1.71}}},
  {"data": {"values": [{}]}, "mark": {"type": "rect", "color": "#5a4aa8"}, "encoding": {"x": {"datum": 153224804, "type": "quantitative", "axis": null}, "x2": {"datum": 153227727}, "y": {"datum": -0.9, "type": "quantitative", "axis": null}, "y2": {"datum": -1.76}}},
  {"data": {"values": [{}]}, "mark": {"type": "rect", "color": "#5a4aa8"}, "encoding": {"x": {"datum": 153227727, "type": "quantitative", "axis": null}, "x2": {"datum": 153229676}, "y": {"datum": -1.13, "type": "quantitative", "axis": null}, "y2": {"datum": -1.53}}},
  {"data": {"values": [{}]}, "mark": {"type": "text", "fontSize": 14, "color": "#2d2a6b", "align": "center", "baseline": "middle"}, "encoding": {"x": {"datum": 153172401, "type": "quantitative", "axis": null}, "y": {"datum": -3.17, "type": "quantitative", "axis": null}, "text": {"value": "5'"}}},
  {"data": {"values": [{}]}, "mark": {"type": "text", "fontSize": 14, "color": "#2d2a6b", "align": "center", "baseline": "middle"}, "encoding": {"x": {"datum": 153181929, "type": "quantitative", "axis": null}, "y": {"datum": -2.83, "type": "quantitative", "axis": null}, "text": {"value": "Asxl1"}}},
  {"data": {"values": [{}]}, "mark": {"type": "text", "fontSize": 14, "color": "#2d2a6b", "align": "center", "baseline": "middle"}, "encoding": {"x": {"datum": 153230217, "type": "quantitative", "axis": null}, "y": {"datum": -3.17, "type": "quantitative", "axis": null}, "text": {"value": "3'"}}},
  {"data": {"values": [{}]}, "mark": {"type": "rule", "color": "#2e7d32", "strokeWidth": 3.5}, "encoding": {"x": {"datum": 153191457, "type": "quantitative", "axis": null}, "x2": {"datum": 153196004}, "y": {"datum": -3.67, "type": "quantitative", "axis": null}}},
  {"data": {"values": [{}]}, "mark": {"type": "rule", "color": "#2e7d32", "strokeWidth": 3.5}, "encoding": {"x": {"datum": 153196004, "type": "quantitative", "axis": null}, "x2": {"datum": 153200551}, "y": {"datum": -4.33, "type": "quantitative", "axis": null}}},
  {"data": {"values": [{}]}, "mark": {"type": "text", "fontSize": 13.5, "color": "#3b8e43", "align": "center", "baseline": "middle"}, "encoding": {"x": {"datum": 153206831, "type": "quantitative", "axis": null}, "y": {"datum": -4.33, "type": "quantitative", "axis": null}, "text": {"value": "RT-PCR regions"}}},
  {"data": {"values": [{}]}, "mark": {"type": "text", "fontSize": 7, "color": "#333", "align": "center", "baseline": "middle"}, "encoding": {"x": {"datum": 153172347, "type": "quantitative", "axis": null}, "y": {"datum": 13.55, "type": "quantitative", "axis": null}, "text": {"value": "Scale"}}},
  {"data": {"values": [{}]}, "mark": {"type": "text", "fontSize": 7, "color": "#333", "align": "center", "baseline": "middle"}, "encoding": {"x": {"datum": 153172726, "type": "quantitative", "axis": null}, "y": {"datum": 15.0, "type": "quantitative", "axis": null}, "text": {"value": "chr2:"}}},
  {"data": {"values": [{}]}, "mark": {"type": "rule", "color": "#777", "strokeWidth": 1}, "encoding": {"x": {"datum": 153191782, "type": "quantitative", "axis": null}, "x2": {"datum": 153211811}, "y": {"datum": 10.67, "type": "quantitative", "axis": null}}},
  {"data": {"values": [{}]}, "mark": {"type": "rule", "color": "#777", "strokeWidth": 1}, "encoding": {"x": {"datum": 153191782, "type": "quantitative", "axis": null}, "y": {"datum": 10.33, "type": "quantitative", "axis": null}, "y2": {"datum": 11.0}}},
  {"data": {"values": [{}]}, "mark": {"type": "rule", "color": "#777", "strokeWidth": 1}, "encoding": {"x": {"datum": 153211811, "type": "quantitative", "axis": null}, "y": {"datum": 10.33, "type": "quantitative", "axis": null}, "y2": {"datum": 11.0}}},
  {"data": {"values": [{}]}, "mark": {"type": "text", "fontSize": 6.6, "color": "#333", "align": "center", "baseline": "middle"}, "encoding": {"x": {"datum": 153201309, "type": "quantitative", "axis": null}, "y": {"datum": 9.67, "type": "quantitative", "axis": null}, "text": {"value": "20 kb"}}},
  {"data": {"values": [{}]}, "mark": {"type": "text", "fontSize": 16.5, "color": "#000", "align": "center", "baseline": "middle"}, "encoding": {"x": {"datum": 153169370, "type": "quantitative", "axis": null}, "y": {"datum": 17.83, "type": "quantitative", "axis": null}, "text": {"value": "B"}}}
 ]},
{"width": 554, "height": 145,
 "layer": [
  {"data": {"name": "covCgray"}, "mark": {"type": "rule", "color": "#8c8c8c", "strokeWidth": 2.2},
   "encoding": {
    "x": {"field": "p", "type": "quantitative", "scale": {"domain": [52650130, 52995510], "nice": false, "zero": false}, "axis": null},
    "y": {"field": "v", "type": "quantitative", "scale": {"domain": [-10.71, 8], "nice": false, "zero": false}, "axis": null},
    "y2": {"datum": 0}}},
  {"data": {"name": "covCgray"}, "mark": {"type": "area", "color": "#8c8c8c", "interpolate": "linear"}, "encoding": {"x": {"field": "p", "type": "quantitative", "axis": null}, "y": {"field": "v", "type": "quantitative", "axis": null}, "y2": {"datum": 0}}},
  {"data": {"name": "covCfloor"}, "mark": {"type": "area", "color": "#000", "interpolate": "linear"}, "encoding": {"x": {"field": "p", "type": "quantitative", "axis": null}, "y": {"field": "v", "type": "quantitative", "axis": null}, "y2": {"datum": 0}}},
  {"data": {"name": "covCsparse"}, "mark": {"type": "rule", "color": "#000", "strokeWidth": 1.2}, "encoding": {"x": {"field": "p", "type": "quantitative", "axis": null}, "y": {"field": "v", "type": "quantitative", "axis": null}, "y2": {"datum": 0}}},
  {"data": {"name": "ticksC"}, "mark": {"type": "text", "fontSize": 6.6, "color": "#333", "align": "center", "baseline": "middle"}, "encoding": {"x": {"field": "t", "type": "quantitative", "axis": null}, "y": {"datum": 9.68, "type": "quantitative", "axis": null}, "text": {"field": "t", "type": "quantitative", "format": "d"}}},
  {"data": {"name": "ticksC"}, "mark": {"type": "rule", "color": "#666", "strokeWidth": 1}, "encoding": {"x": {"field": "t", "type": "quantitative", "axis": null}, "y": {"datum": 9.16, "type": "quantitative", "axis": null}, "y2": {"datum": 8.65}}},
  {"data": {"name": "yC"}, "mark": {"type": "text", "fontSize": 7, "color": "#333", "align": "right", "baseline": "middle"}, "encoding": {"x": {"datum": 52647636, "type": "quantitative", "axis": null}, "y": {"field": "t", "type": "quantitative", "axis": null}, "text": {"field": "t", "type": "quantitative"}}},
  {"data": {"name": "yC"}, "mark": {"type": "rule", "color": "#777", "strokeWidth": 1}, "encoding": {"x": {"datum": 52648260, "type": "quantitative", "axis": null}, "x2": {"datum": 52650130}, "y": {"field": "t", "type": "quantitative", "axis": null}}},
  {"data": {"values": [{}]}, "mark": {"type": "rule", "color": "#f2a5a8", "strokeWidth": 1}, "encoding": {"x": {"datum": 52650130, "type": "quantitative", "axis": null}, "y": {"datum": 8.9, "type": "quantitative", "axis": null}, "y2": {"datum": -4.5}}},
  {"data": {"values": [{}]}, "mark": {"type": "rule", "color": "#7a6cc4", "strokeWidth": 1, "strokeDash": [1.5, 1.5]}, "encoding": {"x": {"datum": 52716833, "type": "quantitative", "axis": null}, "x2": {"datum": 52995493}, "y": {"datum": -1.03, "type": "quantitative", "axis": null}}},
  {"data": {"values": [{}]}, "mark": {"type": "rule", "color": "#a79fd8", "strokeWidth": 1, "strokeDash": [1.5, 1.5]}, "encoding": {"x": {"datum": 52967440, "type": "quantitative", "axis": null}, "x2": {"datum": 52992376}, "y": {"datum": -1.68, "type": "quantitative", "axis": null}}},
  {"data": {"values": [{}]}, "mark": {"type": "rule", "color": "#a79fd8", "strokeWidth": 1, "strokeDash": [1.5, 1.5]}, "encoding": {"x": {"datum": 52967440, "type": "quantitative", "axis": null}, "x2": {"datum": 52992376}, "y": {"datum": -2.06, "type": "quantitative", "axis": null}}},
  {"data": {"values": [{}]}, "mark": {"type": "rule", "color": "#a79fd8", "strokeWidth": 1, "strokeDash": [1.5, 1.5]}, "encoding": {"x": {"datum": 52967440, "type": "quantitative", "axis": null}, "x2": {"datum": 52992376}, "y": {"datum": -2.39, "type": "quantitative", "axis": null}}},
  {"data": {"name": "exC"}, "mark": {"type": "rect", "color": "#5b4fb0"}, "encoding": {"x": {"field": "s", "type": "quantitative", "axis": null}, "x2": {"field": "e"}, "y": {"datum": -0.68, "type": "quantitative", "axis": null}, "y2": {"datum": -1.38}}},
  {"data": {"name": "exC"}, "transform": [{"filter": "datum.s > 52973000"}], "mark": {"type": "rect", "color": "#a79fd8"}, "encoding": {"x": {"field": "s", "type": "quantitative", "axis": null}, "x2": {"field": "e"}, "y": {"datum": -1.5, "type": "quantitative", "axis": null}, "y2": {"datum": -2.5}}},
  {"data": {"values": [{}]}, "mark": {"type": "rect", "filled": false, "stroke": "#a6abc8", "strokeWidth": 1.5, "strokeDash": [4, 3]}, "encoding": {"x": {"datum": 52714340, "type": "quantitative", "axis": null}, "x2": {"datum": 52741769}, "y": {"datum": 9.42, "type": "quantitative", "axis": null}, "y2": {"datum": -4.26}}},
  {"data": {"values": [{}]}, "mark": {"type": "rule", "color": "#2e7d32", "strokeWidth": 2.5}, "encoding": {"x": {"datum": 52725561, "type": "quantitative", "axis": null}, "x2": {"datum": 52729925}, "y": {"datum": -1.81, "type": "quantitative", "axis": null}}},
  {"data": {"values": [{}]}, "mark": {"type": "rule", "color": "#2e7d32", "strokeWidth": 2.5}, "encoding": {"x": {"datum": 52729925, "type": "quantitative", "axis": null}, "x2": {"datum": 52734912}, "y": {"datum": -2.19, "type": "quantitative", "axis": null}}},
  {"data": {"values": [{}]}, "mark": {"type": "rule", "color": "#2e7d32", "strokeWidth": 2.5}, "encoding": {"x": {"datum": 52734912, "type": "quantitative", "axis": null}, "x2": {"datum": 52739276}, "y": {"datum": -2.58, "type": "quantitative", "axis": null}}},
  {"data": {"values": [{}]}, "mark": {"type": "text", "fontSize": 13, "color": "#2d2a6b", "align": "center", "baseline": "middle"}, "encoding": {"x": {"datum": 52708729, "type": "quantitative", "axis": null}, "y": {"datum": -2.32, "type": "quantitative", "axis": null}, "text": {"value": "5'"}}},
  {"data": {"values": [{}]}, "mark": {"type": "text", "fontSize": 13.5, "color": "#3b8e43", "align": "center", "baseline": "middle"}, "encoding": {"x": {"datum": 52774810, "type": "quantitative", "axis": null}, "y": {"datum": -2.97, "type": "quantitative", "axis": null}, "text": {"value": "RT-PCR regions"}}},
  {"data": {"values": [{}]}, "mark": {"type": "text", "fontSize": 13.5, "color": "#2d2a6b", "align": "center", "baseline": "middle"}, "encoding": {"x": {"datum": 52878294, "type": "quantitative", "axis": null}, "y": {"datum": -2.97, "type": "quantitative", "axis": null}, "text": {"value": "Fmnl2"}}},
  {"data": {"values": [{}]}, "mark": {"type": "text", "fontSize": 13, "color": "#2d2a6b", "align": "center", "baseline": "middle"}, "encoding": {"x": {"datum": 52998610, "type": "quantitative", "axis": null}, "y": {"datum": -2.06, "type": "quantitative", "axis": null}, "text": {"value": "3'"}}},
  {"data": {"values": [{}]}, "mark": {"type": "text", "fontSize": 7, "color": "#333", "align": "center", "baseline": "middle"}, "encoding": {"x": {"datum": 52652312, "type": "quantitative", "axis": null}, "y": {"datum": 10.58, "type": "quantitative", "axis": null}, "text": {"value": "Scale"}}},
  {"data": {"values": [{}]}, "mark": {"type": "text", "fontSize": 7, "color": "#333", "align": "center", "baseline": "middle"}, "encoding": {"x": {"datum": 52668832, "type": "quantitative", "axis": null}, "y": {"datum": 10.58, "type": "quantitative", "axis": null}, "text": {"value": "chr2:"}}},
  {"data": {"values": [{}]}, "mark": {"type": "rule", "color": "#777", "strokeWidth": 1}, "encoding": {"x": {"datum": 52772940, "type": "quantitative", "axis": null}, "x2": {"datum": 52873307}, "y": {"datum": 8.26, "type": "quantitative", "axis": null}}},
  {"data": {"values": [{}]}, "mark": {"type": "rule", "color": "#777", "strokeWidth": 1}, "encoding": {"x": {"datum": 52772940, "type": "quantitative", "axis": null}, "y": {"datum": 7.97, "type": "quantitative", "axis": null}, "y2": {"datum": 8.55}}},
  {"data": {"values": [{}]}, "mark": {"type": "rule", "color": "#777", "strokeWidth": 1}, "encoding": {"x": {"datum": 52873307, "type": "quantitative", "axis": null}, "y": {"datum": 7.97, "type": "quantitative", "axis": null}, "y2": {"datum": 8.55}}},
  {"data": {"values": [{}]}, "mark": {"type": "text", "fontSize": 6.6, "color": "#333", "align": "center", "baseline": "middle"}, "encoding": {"x": {"datum": 52822188, "type": "quantitative", "axis": null}, "y": {"datum": 8.84, "type": "quantitative", "axis": null}, "text": {"value": "100 kb"}}},
  {"data": {"values": [{}]}, "mark": {"type": "rule", "color": "#2d2a6b", "strokeWidth": 1.5}, "encoding": {"x": {"datum": 52714340, "type": "quantitative", "axis": null}, "y": {"datum": -4.26, "type": "quantitative", "axis": null}, "x2": {"datum": 52642649}, "y2": {"datum": -8.26}}},
  {"data": {"values": [{}]}, "mark": {"type": "rule", "color": "#2d2a6b", "strokeWidth": 1.5}, "encoding": {"x": {"datum": 52741769, "type": "quantitative", "axis": null}, "y": {"datum": -4.52, "type": "quantitative", "axis": null}, "x2": {"datum": 53001727}, "y2": {"datum": -8.77}}},
  {"data": {"values": [{}]}, "mark": {"type": "point", "shape": "triangle-left", "filled": true, "color": "#2d2a6b", "size": 60, "angle": 345, "opacity": 1}, "encoding": {"x": {"datum": 52645142, "type": "quantitative", "axis": null}, "y": {"datum": -8.13, "type": "quantitative", "axis": null}}},
  {"data": {"values": [{}]}, "mark": {"type": "point", "shape": "triangle-right", "filled": true, "color": "#2d2a6b", "size": 60, "angle": 4.5, "opacity": 1}, "encoding": {"x": {"datum": 52999234, "type": "quantitative", "axis": null}, "y": {"datum": -8.74, "type": "quantitative", "axis": null}}},
  {"data": {"values": [{}]}, "mark": {"type": "text", "fontSize": 16.5, "color": "#000", "align": "center", "baseline": "middle"}, "encoding": {"x": {"datum": 52635791, "type": "quantitative", "axis": null}, "y": {"datum": 14.52, "type": "quantitative", "axis": null}, "text": {"value": "C"}}}
 ]},
{"width": 554, "height": 123,
 "layer": [
  {"data": {"name": "covI"}, "mark": {"type": "area", "color": "#000", "interpolate": "linear"},
   "encoding": {
    "x": {"field": "p", "type": "quantitative", "scale": {"domain": [52715100, 52741990], "nice": false, "zero": false}, "axis": null},
    "y": {"field": "v", "type": "quantitative", "scale": {"domain": [-7.62, 8], "nice": false, "zero": false}, "axis": null},
    "y2": {"datum": 0}}},
  {"data": {"name": "ticksI"}, "mark": {"type": "text", "fontSize": 6.6, "color": "#333", "align": "center", "baseline": "middle"}, "encoding": {"x": {"field": "t", "type": "quantitative", "axis": null}, "y": {"datum": 9.4, "type": "quantitative", "axis": null}, "text": {"field": "t", "type": "quantitative", "format": "d"}}},
  {"data": {"name": "ticksI"}, "mark": {"type": "rule", "color": "#666", "strokeWidth": 1}, "encoding": {"x": {"field": "t", "type": "quantitative", "axis": null}, "y": {"datum": 8.89, "type": "quantitative", "axis": null}, "y2": {"datum": 8.38}}},
  {"data": {"name": "yC"}, "mark": {"type": "text", "fontSize": 7, "color": "#333", "align": "right", "baseline": "middle"}, "encoding": {"x": {"datum": 52714906, "type": "quantitative", "axis": null}, "y": {"field": "t", "type": "quantitative", "axis": null}, "text": {"field": "t", "type": "quantitative"}}},
  {"data": {"name": "yC"}, "mark": {"type": "rule", "color": "#777", "strokeWidth": 1}, "encoding": {"x": {"datum": 52714954, "type": "quantitative", "axis": null}, "x2": {"datum": 52715100}, "y": {"field": "t", "type": "quantitative", "axis": null}}},
  {"data": {"values": [{}]}, "mark": {"type": "rule", "color": "#f2a5a8", "strokeWidth": 1}, "encoding": {"x": {"datum": 52715100, "type": "quantitative", "axis": null}, "y": {"datum": 9.9, "type": "quantitative", "axis": null}, "y2": {"datum": -2.54}}},
  {"data": {"values": [{}]}, "mark": {"type": "rule", "color": "#8a8aae", "strokeWidth": 1.2}, "encoding": {"x": {"datum": 52714420, "type": "quantitative", "axis": null}, "y": {"datum": 12.06, "type": "quantitative", "axis": null}, "y2": {"datum": -7.62}}},
  {"data": {"values": [{}]}, "mark": {"type": "rule", "color": "#8a8aae", "strokeWidth": 1.2}, "encoding": {"x": {"datum": 52742476, "type": "quantitative", "axis": null}, "y": {"datum": 12.06, "type": "quantitative", "axis": null}, "y2": {"datum": -7.62}}},
  {"data": {"values": [{}]}, "mark": {"type": "rule", "color": "#8a8aae", "strokeWidth": 1.2}, "encoding": {"x": {"datum": 52714420, "type": "quantitative", "axis": null}, "x2": {"datum": 52742476}, "y": {"datum": -7.62, "type": "quantitative", "axis": null}}},
  {"data": {"values": [{}]}, "mark": {"type": "rule", "color": "#8f86cc", "strokeWidth": 1, "strokeDash": [1.5, 1.5]}, "encoding": {"x": {"datum": 52717333, "type": "quantitative", "axis": null}, "x2": {"datum": 52741991}, "y": {"datum": -1.02, "type": "quantitative", "axis": null}}},
  {"data": {"values": [{}]}, "mark": {"type": "rule", "color": "#2d2a6b", "strokeWidth": 3}, "encoding": {"x": {"datum": 52716944, "type": "quantitative", "axis": null}, "x2": {"datum": 52717333}, "y": {"datum": -1.02, "type": "quantitative", "axis": null}}},
  {"data": {"values": [{}]}, "mark": {"type": "rect", "color": "#2e7d32"}, "encoding": {"x": {"datum": 52725342, "type": "quantitative", "axis": null}, "x2": {"datum": 52730244}, "y": {"datum": -2.79, "type": "quantitative", "axis": null}, "y2": {"datum": -3.81}}},
  {"data": {"values": [{}]}, "mark": {"type": "rect", "color": "#2e7d32"}, "encoding": {"x": {"datum": 52730147, "type": "quantitative", "axis": null}, "x2": {"datum": 52734953}, "y": {"datum": -4.12, "type": "quantitative", "axis": null}, "y2": {"datum": -5.14}}},
  {"data": {"values": [{}]}, "mark": {"type": "rect", "color": "#2e7d32"}, "encoding": {"x": {"datum": 52734904, "type": "quantitative", "axis": null}, "x2": {"datum": 52739709}, "y": {"datum": -5.39, "type": "quantitative", "axis": null}, "y2": {"datum": -6.41}}},
  {"data": {"values": [{}]}, "mark": {"type": "text", "fontSize": 13, "color": "#2d2a6b", "align": "center", "baseline": "middle"}, "encoding": {"x": {"datum": 52716702, "type": "quantitative", "axis": null}, "y": {"datum": -1.02, "type": "quantitative", "axis": null}, "text": {"value": "5'"}}},
  {"data": {"values": [{}]}, "mark": {"type": "text", "fontSize": 13.5, "color": "#2d2a6b", "align": "center", "baseline": "middle"}, "encoding": {"x": {"datum": 52722987, "type": "quantitative", "axis": null}, "y": {"datum": -2.16, "type": "quantitative", "axis": null}, "text": {"value": "Fmnl2"}}},
  {"data": {"values": [{}]}, "mark": {"type": "text", "fontSize": 13.5, "color": "#3b8e43", "align": "center", "baseline": "middle"}, "encoding": {"x": {"datum": 52724662, "type": "quantitative", "axis": null}, "y": {"datum": -5.46, "type": "quantitative", "axis": null}, "text": {"value": "RT-PCR regions"}}},
  {"data": {"values": [{}]}, "mark": {"type": "text", "fontSize": 7, "color": "#333", "align": "center", "baseline": "middle"}, "encoding": {"x": {"datum": 52715270, "type": "quantitative", "axis": null}, "y": {"datum": 10.54, "type": "quantitative", "axis": null}, "text": {"value": "Scale"}}},
  {"data": {"values": [{}]}, "mark": {"type": "rule", "color": "#777", "strokeWidth": 1}, "encoding": {"x": {"datum": 52723595, "type": "quantitative", "axis": null}, "x2": {"datum": 52733545}, "y": {"datum": 8.13, "type": "quantitative", "axis": null}}},
  {"data": {"values": [{}]}, "mark": {"type": "rule", "color": "#777", "strokeWidth": 1}, "encoding": {"x": {"datum": 52723595, "type": "quantitative", "axis": null}, "y": {"datum": 7.83, "type": "quantitative", "axis": null}, "y2": {"datum": 8.43}}},
  {"data": {"values": [{}]}, "mark": {"type": "rule", "color": "#777", "strokeWidth": 1}, "encoding": {"x": {"datum": 52733545, "type": "quantitative", "axis": null}, "y": {"datum": 7.83, "type": "quantitative", "axis": null}, "y2": {"datum": 8.43}}},
  {"data": {"values": [{}]}, "mark": {"type": "text", "fontSize": 6.6, "color": "#333", "align": "center", "baseline": "middle"}, "encoding": {"x": {"datum": 52728205, "type": "quantitative", "axis": null}, "y": {"datum": 8.63, "type": "quantitative", "axis": null}, "text": {"value": "10 kb"}}}
 ]}
]
}
